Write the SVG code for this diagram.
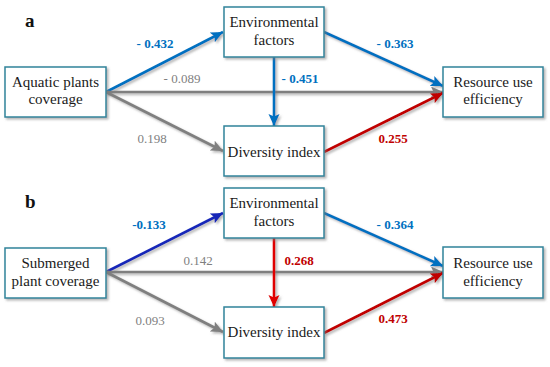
<svg xmlns="http://www.w3.org/2000/svg" width="550" height="367" viewBox="0 0 550 367" font-family="'Liberation Serif', 'Times New Roman', 'DejaVu Serif', serif">
<defs>
<filter id="sh" filterUnits="userSpaceOnUse" x="0" y="0" width="550" height="367">
<feDropShadow dx="1.8" dy="1.8" stdDeviation="0.8" flood-color="#777" flood-opacity="0.55"/>
</filter>
<marker id="mBlue" markerUnits="userSpaceOnUse" markerWidth="14" markerHeight="12" refX="12" refY="5.5" orient="auto" viewBox="0 0 14 12"><path d="M0,0 L12,5.5 L0,11 L2.5,5.5 z" fill="#0070C0"/></marker>
<marker id="mNavy" markerUnits="userSpaceOnUse" markerWidth="14" markerHeight="12" refX="12" refY="5.5" orient="auto" viewBox="0 0 14 12"><path d="M0,0 L12,5.5 L0,11 L2.5,5.5 z" fill="#1428B8"/></marker>
<marker id="mGray" markerUnits="userSpaceOnUse" markerWidth="14" markerHeight="12" refX="12" refY="5.5" orient="auto" viewBox="0 0 14 12"><path d="M0,0 L12,5.5 L0,11 L2.5,5.5 z" fill="#7F7F7F"/></marker>
<marker id="mRed" markerUnits="userSpaceOnUse" markerWidth="14" markerHeight="12" refX="12" refY="5.5" orient="auto" viewBox="0 0 14 12"><path d="M0,0 L12,5.5 L0,11 L2.5,5.5 z" fill="#C00000"/></marker>
<marker id="mRed2" markerUnits="userSpaceOnUse" markerWidth="14" markerHeight="12" refX="12" refY="5.5" orient="auto" viewBox="0 0 14 12"><path d="M0,0 L12,5.5 L0,11 L2.5,5.5 z" fill="#E00000"/></marker>
</defs>
<style>
text{font-family:'Liberation Serif','Times New Roman','DejaVu Serif',serif}
.box{fill:#fff;stroke:#31849B;stroke-width:1.5;filter:url(#sh)}
.nt{font-size:15px;fill:#1a1a1a;text-anchor:middle}
.ln{stroke-width:2.6;fill:none;filter:url(#sh)}
.blue{stroke:#0070C0;marker-end:url(#mBlue)}
.navy{stroke:#1428B8;marker-end:url(#mNavy)}
.gray{stroke:#7F7F7F;marker-end:url(#mGray)}
.red{stroke:#C00000;marker-end:url(#mRed)}
.red2{stroke:#E00000;marker-end:url(#mRed2)}
.lb{font-size:13px;text-anchor:middle}
.lbB{font-weight:bold;fill:#0070C0}
.lbR{font-weight:bold;fill:#C00000}
.lbG{fill:#7F7F7F}
.pl{font-size:19px;font-weight:bold;fill:#111}
</style>
<rect width="550" height="367" fill="#fff"/>
<text class="pl" x="25" y="27">a</text>
<text class="pl" x="25" y="208">b</text>
<g id="connectors">
<line class="ln blue" x1="106" y1="92" x2="223" y2="32"/>
<line class="ln gray" x1="106" y1="92" x2="443" y2="92"/>
<line class="ln gray" x1="106" y1="92" x2="223" y2="151"/>
<line class="ln blue" x1="274" y1="57" x2="274" y2="126"/>
<line class="ln blue" x1="324" y1="32" x2="443" y2="86"/>
<line class="ln red" x1="324" y1="152" x2="443" y2="93"/>
<line class="ln navy" x1="106" y1="272" x2="223" y2="213"/>
<line class="ln gray" x1="106" y1="272" x2="443" y2="272"/>
<line class="ln gray" x1="106" y1="272" x2="223" y2="332"/>
<line class="ln red2" x1="274" y1="238" x2="274" y2="307"/>
<line class="ln blue" x1="324" y1="213" x2="443" y2="266"/>
<line class="ln red" x1="324" y1="333" x2="443" y2="273"/>
</g>
<g id="edge-labels">
<text class="lb lbB" x="155" y="48">- 0.432</text>
<text class="lb lbG" x="182" y="83">- 0.089</text>
<text class="lb lbG" x="152" y="143">0.198</text>
<text class="lb lbB" x="300" y="83">- 0.451</text>
<text class="lb lbB" x="395" y="48">- 0.363</text>
<text class="lb lbR" x="393" y="143">0.255</text>
<text class="lb lbB" x="149" y="229">-0.133</text>
<text class="lb lbG" x="198" y="265">0.142</text>
<text class="lb lbG" x="150" y="325">0.093</text>
<text class="lb lbR" x="299" y="265">0.268</text>
<text class="lb lbB" x="395" y="229">- 0.364</text>
<text class="lb lbR" x="393" y="323">0.473</text>
</g>
<g id="a-aquatic"><rect class="box" x="5" y="67" width="101" height="50"/><text class="nt" x="55.5" y="87">Aquatic plants</text><text class="nt" x="55.5" y="104">coverage</text></g>
<g id="a-env"><rect class="box" x="224" y="7" width="100" height="50"/><text class="nt" x="274" y="27">Environmental</text><text class="nt" x="274" y="45">factors</text></g>
<g id="a-div"><rect class="box" x="224" y="126" width="100" height="50"/><text class="nt" x="274" y="157">Diversity index</text></g>
<g id="a-rue"><rect class="box" x="443" y="67" width="100" height="50"/><text class="nt" x="493" y="87">Resource use</text><text class="nt" x="493" y="104">efficiency</text></g>
<g id="b-sub"><rect class="box" x="5" y="248" width="101" height="50"/><text class="nt" x="55.5" y="268">Submerged</text><text class="nt" x="55.5" y="286">plant coverage</text></g>
<g id="b-env"><rect class="box" x="224" y="188" width="100" height="50"/><text class="nt" x="274" y="208">Environmental</text><text class="nt" x="274" y="226">factors</text></g>
<g id="b-div"><rect class="box" x="224" y="307" width="100" height="51"/><text class="nt" x="274" y="337">Diversity index</text></g>
<g id="b-rue"><rect class="box" x="443" y="247" width="100" height="51"/><text class="nt" x="493" y="268">Resource use</text><text class="nt" x="493" y="286">efficiency</text></g>
</svg>
